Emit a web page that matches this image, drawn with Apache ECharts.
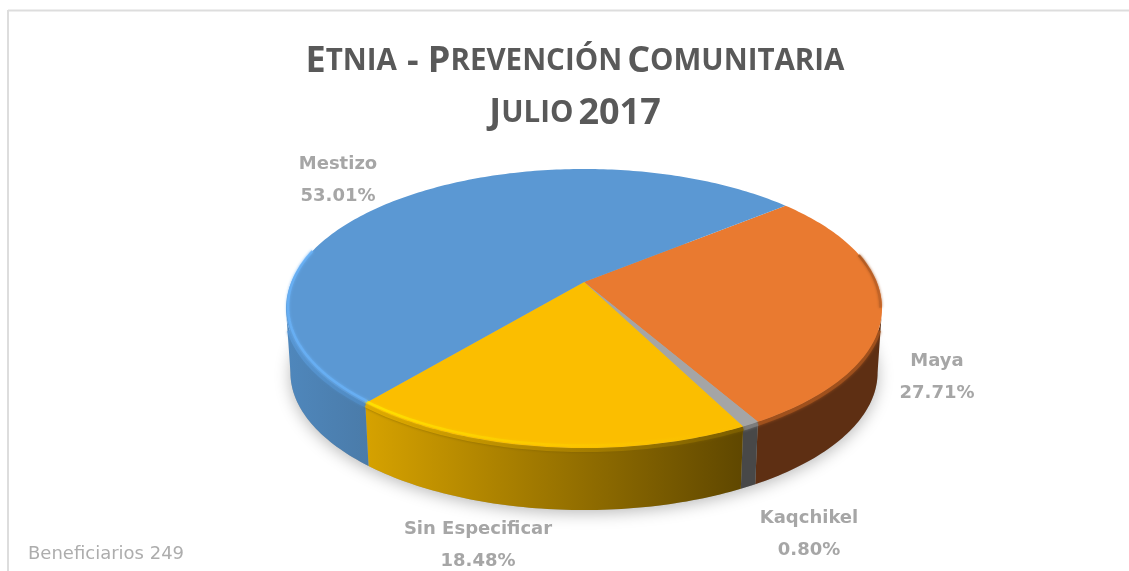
<!DOCTYPE html>
<html><head><meta charset="utf-8">
<style>html,body{margin:0;padding:0;background:#fff}#c{width:1129px;height:571px}</style>
<script src="https://cdn.jsdelivr.net/npm/echarts@6/dist/echarts.min.js"></script>
</head><body><div id="c"></div>
<script>
// Data, clockwise from the first slice
const categories = ['Maya', 'Kaqchikel', 'Sin Especificar', 'Mestizo'];
const percents = [27.71, 0.80, 18.48, 53.01];
const beneficiaries = 249;

// Layout of the tilted disc (projective map of a unit circle)
const disc = {cx:584, cy:282, rx:292.6, ry:134.5, k:0.19, depth:64.5, shrink:0.985, start:50.5};
const labelPlace = {
  'Maya':[937,377], 'Kaqchikel':[809,534], 'Sin Especificar':[478,545], 'Mestizo':[338,180]
};
const topColors  = {'Maya':'#E97A30','Kaqchikel':'#A5A5A5','Sin Especificar':'#FBBE00','Mestizo':'#5B98D3'};
const wallColors = {
  'Maya':['#5E2F13','#5E2F13'],
  'Kaqchikel':['#484848','#484848'],
  'Sin Especificar':['#D6A200','#5F4700'],
  'Mestizo':['#4F87BC','#4A7BA9']
};
// soft band just under the top face, blending it into the wall
const bandColors = {
  'Maya':['#A5531D','#A5531D'],
  'Kaqchikel':['#808080','#808080'],
  'Sin Especificar':['#F2B800','#7D5F00'],
  'Mestizo':['#5A9AD8','#4F8AC2']
};
// thin highlight or shade on the edge of the top face
const lipColors = {
  'Maya':['#A9561F','#C2652A'],
  'Sin Especificar':['#FFE600','rgba(251,190,0,0)'],
  'Mestizo':['#68B0F5','#68B0F5']
};

const rad = a => a*Math.PI/180;
function topPt(a){
  const x=Math.sin(rad(a)), y=-Math.cos(rad(a)), w=1-disc.k*y;
  return [disc.cx+disc.rx*x/w, disc.cy+disc.ry*y/w];
}
function botPt(a){
  const p=topPt(a);
  return [disc.cx+(p[0]-disc.cx)*disc.shrink, disc.cy+(p[1]-disc.cy)*disc.shrink+disc.depth];
}
function arc(fn,a0,a1){
  const out=[], n=Math.max(2,Math.ceil(Math.abs(a1-a0)));
  for(let i=0;i<=n;i++) out.push(fn(a0+(a1-a0)*i/n));
  return out;
}
const grad=c=>new echarts.graphic.LinearGradient(0,0,1,0,[{offset:0,color:c[0]},{offset:1,color:c[1]}]);
const visA=101, visB=259; // side wall is visible between these disc angles

function renderItem(params, api){
  const name=categories[api.value(0)];
  const a0=api.value(1), a1=api.value(2);
  const kids=[];
  const v0=Math.max(a0,visA), v1=Math.min(a1,visB);
  if(v1>v0){
    const poly=arc(topPt,v0,v1).concat(arc(botPt,v1,v0));
    kids.push({type:'polygon',shape:{points:poly},style:{fill:grad(wallColors[name])},z2:1});
    const b0=v0===visA?v0+8:v0, b1=v1===visB?v1-8:v1;
    kids.push({type:'polyline',shape:{points:arc(topPt,b0,b1).map(p=>[p[0],p[1]+2])},
      style:{fill:null,stroke:grad(bandColors[name]),lineWidth:4,lineCap:'butt',opacity:0.8,shadowBlur:3,shadowColor:bandColors[name][1]},z2:2});
  }
  kids.push({type:'polygon',shape:{points:[[disc.cx,disc.cy]].concat(arc(topPt,a0,a1))},
    style:{fill:topColors[name]},z2:3});
  const lip=lipColors[name];
  if(lip){
    const r0=name==='Maya'?a0+28:(name==='Mestizo'?a0:v0), r1=name==='Maya'?v0:(name==='Mestizo'?visB+24:v1);
    const inset=name==='Maya'?[-1.5,-1]:(name==='Mestizo'?[2,-2]:[0,-2.5]);
    kids.push({type:'polyline',shape:{points:arc(topPt,r0,r1).map(p=>[p[0]+inset[0],p[1]+inset[1]])},
      style:{fill:null,stroke:grad(lip),lineWidth:2.5,lineCap:'butt',opacity:0.85,shadowBlur:3,shadowColor:name==='Sin Especificar'?'rgba(255,230,0,0.4)':lip[0]},z2:4});
  }
  const p=labelPlace[name];
  kids.push({type:'text',style:{x:p[0],y:p[1],text:name+'\n'+api.value(3).toFixed(2)+'%',
    align:'center',verticalAlign:'middle',fill:'#A6A6A6',font:'bold 18px "DejaVu Sans"',lineHeight:32},z2:10});
  return {type:'group',children:kids};
}

let acc=disc.start;
const total=percents.reduce((s,v)=>s+v,0);
const rows=percents.map((v,i)=>{const a0=acc; acc+=v/total*360; return [i,a0,acc,v];});

const shadowPts=arc(botPt,0,360);
const chart=echarts.init(document.getElementById('c'),null,{renderer:'canvas'});
chart.setOption({
  animation:false,
  backgroundColor:'#fff',
  title:{
    left:570,textAlign:'center',top:31,
    text:'{b|E}{s|TNIA}  {b|- P}{s|REVENCIÓN} {b|C}{s|OMUNITARIA}\n{b|J}{s|ULIO} {n|2017}',
    textStyle:{color:'#595959',rich:{
      b:{fontFamily:'"Open Sans"',fontSize:36,color:'#595959',lineHeight:52},
      s:{fontFamily:'"Open Sans"',fontSize:29.5,color:'#595959',lineHeight:52},
      n:{fontFamily:'"Open Sans"',fontSize:36,fontWeight:'bold',color:'#595959',lineHeight:52}
    }}
  },
  graphic:[
    {type:'line',silent:true,shape:{x1:8,y1:10.5,x2:1129,y2:10.5},style:{stroke:'#DDDDDD',lineWidth:2}},
    {type:'line',silent:true,shape:{x1:8,y1:10,x2:8,y2:571},style:{stroke:'#DDDDDD',lineWidth:2}},
    {type:'text',silent:true,style:{x:28,y:554,text:'Beneficiarios '+beneficiaries,fill:'#ADADAD',font:'18px "DejaVu Sans"',verticalAlign:'middle'}},
    {type:'polygon',silent:true,z:-1,shape:{points:shadowPts},style:{fill:'#aaa',shadowBlur:16,shadowColor:'rgba(0,0,0,0.28)',shadowOffsetY:3}}
  ],
  series:[{
    type:'custom',coordinateSystem:'none',
    data:rows,renderItem:renderItem,silent:true,z:2,
    encode:{}
  }]
});
</script></body></html>
